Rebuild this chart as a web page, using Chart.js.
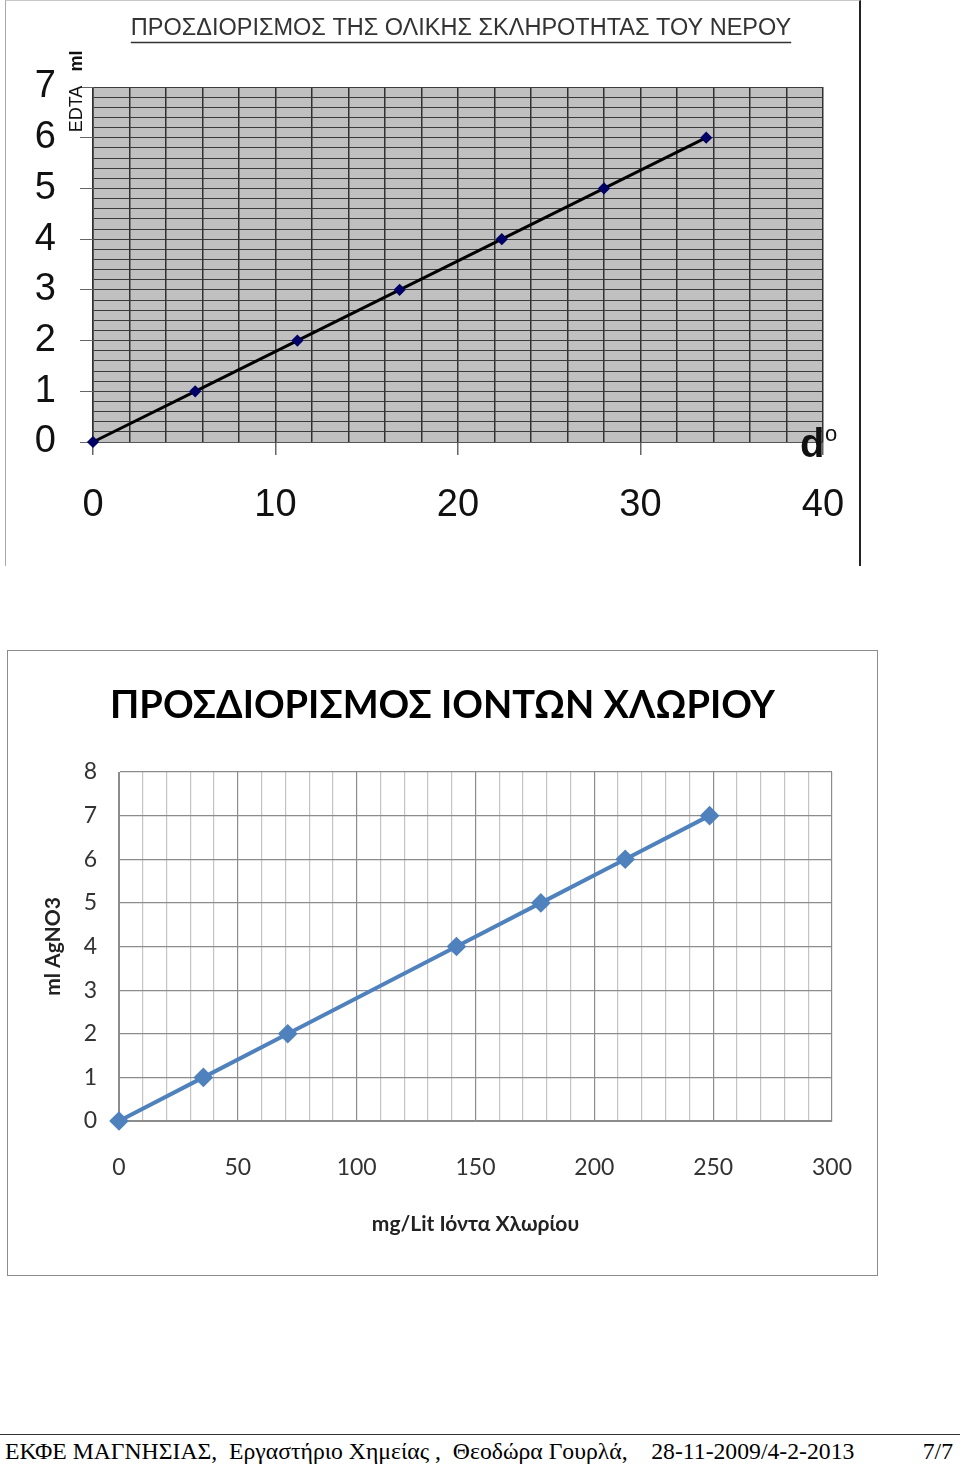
<!DOCTYPE html>
<html>
<head>
<meta charset="utf-8">
<script src="https://cdn.jsdelivr.net/npm/chart.js@4.4.0/dist/chart.umd.min.js"></script>
<style>
  body { margin: 0; background: #fff; width: 960px; height: 1468px; position: relative; overflow: hidden; }
  #frame1 { position: absolute; left: 5px; top: 0; width: 856px; height: 566px; box-sizing: border-box;
            border-left: 1px solid #a8a8a8; border-top: 1px solid #c8c8c8; border-right: 2px solid #222; }
  #frame2 { position: absolute; left: 7px; top: 650px; width: 871px; height: 626px; box-sizing: border-box;
            border: 1px solid #8c8c8c; }
  canvas { position: absolute; left: 0; top: 0; }
  #footLine { position: absolute; left: 0; top: 1434px; width: 960px; height: 0; border-top: 1px solid #333; }
  #footer { position: absolute; left: 5px; top: 1436px; width: 950px; font: 23.7px "Liberation Serif", "Times New Roman", serif;
            line-height: 30px; white-space: pre; color: #000; }
  #footer span { position: absolute; right: 2px; top: 0; }
</style>
</head>
<body>
<div id="frame1"><canvas id="hardChart" width="853" height="565"></canvas></div>
<div id="frame2"><canvas id="chlorChart" width="869" height="624"></canvas></div>
<div id="footLine"></div>
<div id="footer">ΕΚΦΕ ΜΑΓΝΗΣΙΑΣ,  Εργαστήριο Χημείας ,  Θεοδώρα Γουρλά,    28-11-2009/4-2-2013<span>7/7</span></div>

<script>
// --- total hardness: degrees d vs ml EDTA ---
const hardnessDeg = [0, 5.6, 11.2, 16.8, 22.4, 28, 33.6];
const hardnessEdta = [0, 1, 2, 3, 4, 5, 6];
const hardnessXLabels = [0, 10, 20, 30, 40];
const hardnessYLabels = [0, 1, 2, 3, 4, 5, 6, 7];

// --- chloride ions: mg/Lit vs ml AgNO3 ---
const chlorideMg = [0, 35.5, 71, 142, 177.5, 213, 248.5];
const chlorideAgno3 = [0, 1, 2, 4, 5, 6, 7];
const chlorideXLabels = [0, 50, 100, 150, 200, 250, 300];
const chlorideYLabels = [0, 1, 2, 3, 4, 5, 6, 7, 8];

function isLabel(list, v) {
    return list.some(t => Math.abs(t - v) < 1e-6);
}

// keep the plot edges where they are, no extra room for the end labels
function fixWidth(w) {
    return scale => { scale.width = w; scale.paddingTop = 0; scale.paddingBottom = 0; };
}
function fixHeight(h) {
    return scale => { scale.height = h; scale.paddingLeft = 0; scale.paddingRight = 0; };
}

// gray plot background + the loose texts of the first chart
const hardnessDecor = {
    id: 'hardnessDecor',
    beforeDraw(chart) {
        const {ctx, chartArea: a} = chart;
        ctx.save();
        ctx.fillStyle = '#c0c0c0';
        ctx.fillRect(a.left, a.top, a.right - a.left, a.bottom - a.top);
        ctx.restore();
    },
    afterDraw(chart) {
        const ctx = chart.ctx;
        ctx.save();
        // title, underlined
        const title = 'ΠΡΟΣΔΙΟΡΙΣΜΟΣ ΤΗΣ ΟΛΙΚΗΣ ΣΚΛΗΡΟΤΗΤΑΣ ΤΟΥ ΝΕΡΟΥ';
        ctx.font = '23.5px "Liberation Sans", Arial, sans-serif';
        ctx.fillStyle = '#333';
        ctx.textAlign = 'center';
        ctx.textBaseline = 'middle';
        ctx.fillText(title, 455, 28);
        const w = ctx.measureText(title).width;
        ctx.strokeStyle = '#333';
        ctx.lineWidth = 1.5;
        ctx.beginPath();
        ctx.moveTo(455 - w / 2, 41.5);
        ctx.lineTo(455 + w / 2, 41.5);
        ctx.stroke();

        // y axis name, rotated
        ctx.save();
        ctx.translate(71, 108);
        ctx.rotate(-Math.PI / 2);
        ctx.font = '18px "Liberation Sans", Arial, sans-serif';
        ctx.fillStyle = '#111';
        ctx.fillText('EDTA', 0, 0);
        ctx.font = 'bold 18px "Liberation Sans", Arial, sans-serif';
        ctx.fillText('ml', 48, 0);
        ctx.restore();

        // x axis name at the right end
        ctx.textAlign = 'left';
        ctx.textBaseline = 'alphabetic';
        ctx.fillStyle = '#111';
        ctx.font = 'bold 40px "Liberation Sans", Arial, sans-serif';
        ctx.fillText('d', 794, 456);
        ctx.font = '22px "Liberation Sans", Arial, sans-serif';
        ctx.fillText('o', 819, 440);
        ctx.restore();
    }
};

new Chart(document.getElementById('hardChart'), {
    type: 'line',
    data: {
        datasets: [{
            data: hardnessDeg.map((x, i) => ({x: x, y: hardnessEdta[i]})),
            borderColor: '#000',
            borderWidth: 3,
            pointStyle: 'rectRot',
            pointRadius: 4,
            pointBackgroundColor: '#000066',
            pointBorderColor: '#000066',
            tension: 0,
            clip: false
        }]
    },
    options: {
        responsive: false,
        animation: false,
        layout: { padding: { left: 0, right: 36, top: 86, bottom: 0 } },
        plugins: { legend: { display: false }, tooltip: { enabled: false } },
        scales: {
            x: {
                type: 'linear',
                min: 0,
                max: 40,
                afterFit: fixHeight(124),
                grid: {
                    color: '#303030',
                    lineWidth: 1.5,
                    tickLength: 13,
                    tickColor: ctx => ctx.tick && isLabel(hardnessXLabels, ctx.tick.value) ? '#666' : 'rgba(0,0,0,0)'
                },
                border: { color: '#555' },
                ticks: {
                    stepSize: 2,
                    autoSkip: false,
                    maxRotation: 0,
                    padding: 28,
                    color: '#111',
                    font: { family: '"Liberation Sans", Arial, sans-serif', size: 38 },
                    callback: v => isLabel(hardnessXLabels, v) ? String(Math.round(v)) : ''
                }
            },
            y: {
                min: 0,
                max: 7,
                afterFit: fixWidth(87),
                grid: {
                    color: '#3a3a3a',
                    lineWidth: 1,
                    tickLength: 13,
                    tickColor: ctx => ctx.tick && isLabel(hardnessYLabels, ctx.tick.value) ? '#666' : 'rgba(0,0,0,0)'
                },
                border: { color: '#555' },
                ticks: {
                    stepSize: 0.2,
                    autoSkip: false,
                    padding: 24,
                    color: '#111',
                    font: { family: '"Liberation Sans", Arial, sans-serif', size: 38 },
                    callback: v => isLabel(hardnessYLabels, v) ? String(Math.round(v)) : ''
                }
            }
        }
    },
    plugins: [hardnessDecor]
});

const calibriLike = 'Lato, "Open Sans", sans-serif';

new Chart(document.getElementById('chlorChart'), {
    type: 'line',
    data: {
        datasets: [{
            data: chlorideMg.map((x, i) => ({x: x, y: chlorideAgno3[i]})),
            borderColor: '#4f81bd',
            borderWidth: 4,
            pointStyle: 'rectRot',
            pointRadius: 7,
            pointBackgroundColor: '#4f81bd',
            pointBorderColor: '#4f81bd',
            tension: 0,
            clip: false
        }]
    },
    options: {
        responsive: false,
        animation: false,
        layout: { padding: 0 },
        plugins: {
            legend: { display: false },
            tooltip: { enabled: false },
            title: {
                display: true,
                text: 'ΠΡΟΣΔΙΟΡΙΣΜΟΣ ΙΟΝΤΩΝ ΧΛΩΡΙΟΥ',
                color: '#000',
                font: { family: calibriLike, size: 38, weight: 'bold', lineHeight: 1.2 },
                padding: { top: 32.2, bottom: 43.2 }
            }
        },
        scales: {
            x: {
                type: 'linear',
                min: 0,
                max: 300,
                afterFit: fixHeight(154),
                grid: {
                    drawTicks: false,
                    color: ctx => ctx.tick && ctx.tick.value % 50 === 0 ? '#8c8c8c' : '#c4c4c4',
                    lineWidth: 1.2
                },
                border: { color: '#8c8c8c' },
                ticks: {
                    stepSize: 10,
                    autoSkip: false,
                    maxRotation: 0,
                    padding: 33,
                    color: '#333',
                    font: { family: calibriLike, size: 23 },
                    callback: v => isLabel(chlorideXLabels, v) ? String(v) : ''
                },
                title: {
                    display: true,
                    text: 'mg/Lit Ιόντα Χλωρίου',
                    color: '#222',
                    font: { family: calibriLike, size: 21, weight: 'bold', lineHeight: 1.2 },
                    padding: { top: 0, bottom: 38.4 }
                }
            },
            y: {
                min: 0,
                max: 8,
                afterFit: fixWidth(111),
                grid: { drawTicks: false, color: '#8c8c8c', lineWidth: 1.2 },
                border: { color: '#8c8c8c' },
                ticks: {
                    stepSize: 1,
                    autoSkip: false,
                    padding: 22,
                    color: '#333',
                    font: { family: calibriLike, size: 23 },
                    callback: v => isLabel(chlorideYLabels, v) ? String(v) : ''
                },
                title: {
                    display: true,
                    text: 'ml AgNO3',
                    color: '#222',
                    font: { family: calibriLike, size: 21, weight: 'bold', lineHeight: 1.2 },
                    padding: { top: 32.4, bottom: 0 }
                }
            },
            // empty right-hand margin so the title stays centred on the frame
            yRight: {
                position: 'right',
                min: 0,
                max: 8,
                afterFit: fixWidth(45),
                grid: { display: false },
                border: { display: false },
                ticks: { display: false }
            }
        }
    }
});
</script>
</body>
</html>
